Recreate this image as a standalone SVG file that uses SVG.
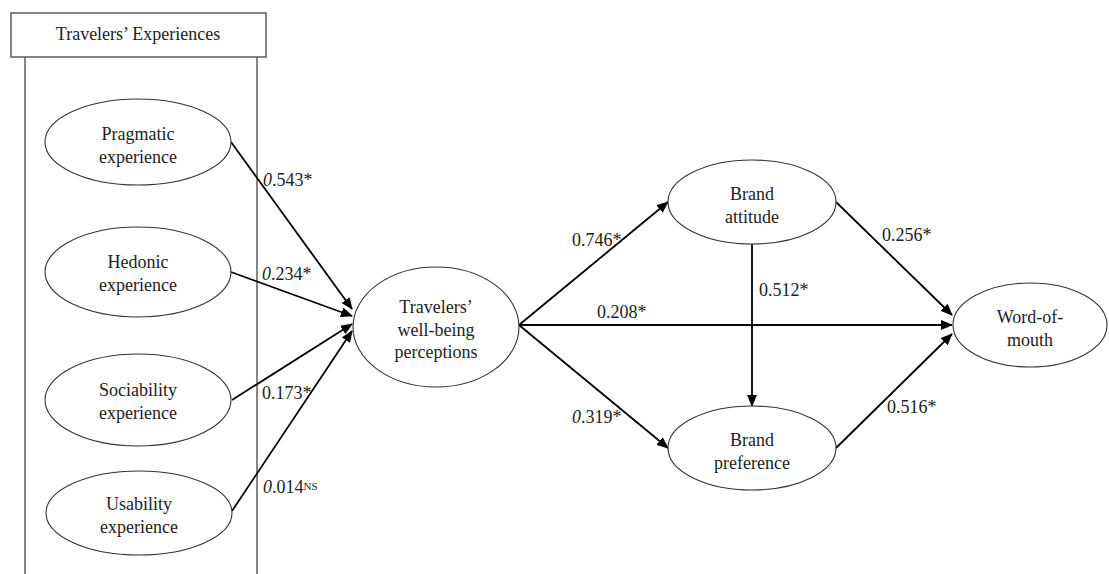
<svg xmlns="http://www.w3.org/2000/svg" width="1109" height="574" viewBox="0 0 1109 574">
<style>
text{font-family:"Liberation Serif","Times New Roman",serif;font-size:18px;fill:#222;text-anchor:middle}
.lbl{text-anchor:start}
.it{font-style:italic}
.node ellipse{fill:#fff;stroke:#333;stroke-width:1.1}
.frame{fill:none;stroke:#444;stroke-width:1.3}
.edge{stroke:#000;stroke-width:1.8;fill:none;marker-end:url(#ah)}
</style>
<defs>
<marker id="ah" viewBox="0 0 12 10" refX="11" refY="5" markerWidth="12" markerHeight="10" markerUnits="userSpaceOnUse" orient="auto">
<path d="M0,0 L12,5 L0,10 z" fill="#000"/>
</marker>
</defs>
<rect width="1109" height="574" fill="#fff"/>
<g id="frame">
<rect class="frame" x="11" y="13" width="255" height="44" fill="#fff"/>
<line class="frame" x1="25" y1="57" x2="25" y2="574"/>
<line class="frame" x1="257" y1="57" x2="257" y2="574"/>
<text x="138" y="40">Travelers’ Experiences</text>
</g>
<g id="connectors">
<line class="edge" x1="231" y1="142" x2="352" y2="309"/>
<line class="edge" x1="231" y1="272" x2="352" y2="316"/>
<line class="edge" x1="232" y1="400" x2="352" y2="324"/>
<line class="edge" x1="232" y1="511" x2="352" y2="331"/>
<line class="edge" x1="519" y1="325" x2="668" y2="202"/>
<line class="edge" x1="519" y1="325" x2="952" y2="325"/>
<line class="edge" x1="519" y1="325" x2="668" y2="448"/>
<line class="edge" x1="752" y1="244" x2="752" y2="406"/>
<line class="edge" x1="836" y1="202" x2="952" y2="315"/>
<line class="edge" x1="836" y1="448" x2="952" y2="334"/>
<text class="lbl" x="263" y="186"><tspan class="it">0</tspan>.543*</text>
<text class="lbl" x="262" y="280"><tspan class="it">0</tspan>.234*</text>
<text class="lbl" x="262" y="399">0.173*</text>
<text class="lbl" x="263" y="493"><tspan class="it">0</tspan>.014<tspan font-size="11" dy="-3">NS</tspan></text>
<text class="lbl" x="572" y="246">0.746*</text>
<text class="lbl" x="597" y="318">0.208*</text>
<text class="lbl" x="759" y="296">0.512*</text>
<text class="lbl" x="572" y="423"><tspan class="it">0</tspan>.319*</text>
<text class="lbl" x="882" y="241">0.256*</text>
<text class="lbl" x="887" y="413">0.516*</text>
</g>
<g id="pragmatic" class="node">
<ellipse cx="138" cy="142" rx="93" ry="43"/>
<text x="138" y="140">Pragmatic</text>
<text x="138" y="163">experience</text>
</g>
<g id="hedonic" class="node">
<ellipse cx="138" cy="272" rx="93" ry="45"/>
<text x="138" y="268">Hedonic</text>
<text x="138" y="291">experience</text>
</g>
<g id="sociability" class="node">
<ellipse cx="138" cy="400" rx="93" ry="46"/>
<text x="138" y="396">Sociability</text>
<text x="138" y="419">experience</text>
</g>
<g id="usability" class="node">
<ellipse cx="139" cy="513" rx="93" ry="42"/>
<text x="139" y="510">Usability</text>
<text x="139" y="533">experience</text>
</g>
<g id="wellbeing" class="node">
<ellipse cx="436" cy="327" rx="83" ry="60"/>
<text x="436" y="313">Travelers’</text>
<text x="436" y="336">well-being</text>
<text x="436" y="358">perceptions</text>
</g>
<g id="attitude" class="node">
<ellipse cx="752" cy="202" rx="84" ry="42"/>
<text x="752" y="200">Brand</text>
<text x="752" y="223">attitude</text>
</g>
<g id="preference" class="node">
<ellipse cx="752" cy="448" rx="84" ry="42"/>
<text x="752" y="446">Brand</text>
<text x="752" y="469">preference</text>
</g>
<g id="wom" class="node">
<ellipse cx="1030" cy="325" rx="77" ry="42"/>
<text x="1030" y="323">Word-of-</text>
<text x="1030" y="346">mouth</text>
</g>
</svg>
